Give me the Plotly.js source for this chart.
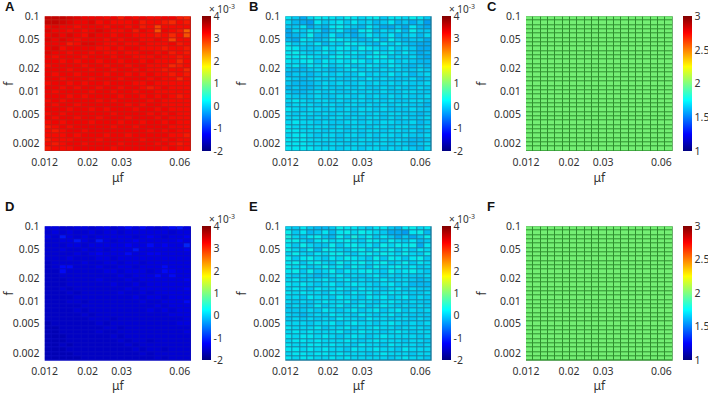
<!DOCTYPE html>
<html><head><meta charset="utf-8">
<script src="https://cdn.plot.ly/plotly-3.0.1.min.js"></script>
<style>html,body{margin:0;padding:0;background:#fff}#c{width:708px;height:394px}</style></head>
<body><div id="c"></div>
<script>
const muEdges=[0.012,0.01309,0.01428,0.01559,0.01701,0.01856,0.02025,0.02209,0.0241,0.0263,0.0287,0.03131,0.03416,0.03727,0.04067,0.04437,0.04841,0.05283,0.05764,0.06289,0.0686];
const fEdges=[0.1,0.08755,0.07662,0.06705,0.05868,0.05135,0.04494,0.03932,0.03441,0.03012,0.02635,0.02306,0.02018,0.01766,0.01546,0.01353,0.01184,0.01036,0.00906,0.00793,0.00694,0.00608,0.00532,0.00465,0.00407,0.00356,0.00312,0.00273,0.00239,0.00209,0.00183,0.0016];
const muTicks=[0.012,0.02,0.03,0.06];
const muLabels=['0.012','0.02','0.03','0.06'];
const fTicks=[0.002,0.005,0.01,0.02,0.05,0.1];
const fLabels=['0.002','0.005','0.01','0.02','0.05','0.1'];
const scaleE3Ticks=[-2,-1,0,1,2,3,4];
const scaleE3Labels=['-2','-1','0','1','2','3','4'];
const scaleNTicks=[1,1.5,2,2.5,3];
const scaleNLabels=['1','1.5','2','2.5','3'];
const jet=[[0,'#000080'],[0.125,'#0000ff'],[0.375,'#00ffff'],[0.625,'#ffff00'],[0.875,'#ff0000'],[1,'#800000']];

const zA=[
[3.6,3.6,3.6,3.5,3.4,3.3,3.3,3.3,3.2,3.3,3.1,3.3,3.2,3.3,3.2,3.2,3.3,3.3,3.1,3.0],
[3.6,3.6,3.5,3.4,3.3,3.3,3.4,3.2,3.3,3.2,3.2,3.2,3.3,3.1,3.2,3.2,3.1,3.0,3.2,3.1],
[3.3,3.4,3.3,3.3,3.2,3.3,3.3,3.3,3.2,3.3,3.3,3.2,3.3,3.1,3.2,2.8,3.2,3.2,3.2,3.2],
[3.4,3.3,3.3,3.2,3.3,3.2,3.3,3.4,3.3,3.2,3.2,3.3,3.1,3.3,3.2,2.7,3.3,3.2,3.1,2.6],
[3.3,3.4,3.3,3.4,3.3,3.2,3.4,3.3,3.3,3.2,3.3,3.3,3.2,3.2,3.2,3.1,3.2,3.0,3.2,2.7],
[3.4,3.3,3.4,3.3,3.2,3.3,3.3,3.3,3.2,3.3,3.2,3.3,3.3,3.2,3.2,3.3,3.2,2.8,3.2,3.2],
[3.3,3.3,3.3,3.1,3.2,3.4,3.4,3.3,3.2,3.2,3.3,3.2,3.2,3.3,3.2,3.2,3.2,3.3,3.1,3.2],
[3.3,3.4,3.2,3.3,3.3,3.3,3.3,3.2,3.2,3.3,3.2,3.3,3.3,3.2,3.2,3.2,3.1,3.2,3.2,3.1],
[3.4,3.3,3.3,3.2,3.3,3.3,3.2,3.3,3.2,3.2,3.3,3.2,3.2,3.3,3.3,3.2,3.3,3.1,3.2,3.1],
[3.3,3.2,3.3,3.3,3.3,3.2,3.3,3.3,3.3,3.2,3.3,3.3,3.2,3.2,3.2,3.3,3.2,3.2,3.1,3.2],
[3.3,3.3,3.2,3.3,3.2,3.3,3.3,3.2,3.3,3.3,3.2,3.3,3.3,3.2,3.3,3.2,3.2,3.2,3.0,3.2],
[3.2,3.3,3.3,3.3,3.3,3.2,3.3,3.3,3.2,3.3,3.3,3.2,3.3,3.3,3.2,3.2,3.2,3.0,3.1,3.2],
[3.3,3.3,3.3,3.2,3.3,3.3,3.2,3.3,3.3,3.2,3.3,3.3,3.2,3.3,3.2,3.2,3.1,3.2,3.2,3.0],
[3.3,3.2,3.3,3.3,3.2,3.3,3.3,3.3,3.2,3.3,3.3,3.2,3.3,3.2,3.3,3.2,3.2,3.1,3.2,3.1],
[3.3,3.3,3.2,3.3,3.3,3.3,3.2,3.3,3.3,3.3,3.2,3.3,3.3,3.3,3.2,3.3,3.2,3.2,3.0,3.2],
[3.2,3.3,3.3,3.2,3.3,3.2,3.3,3.3,3.2,3.3,3.3,3.3,3.2,3.2,3.3,3.2,3.2,3.2,3.2,3.2],
[3.3,3.3,3.2,3.3,3.2,3.3,3.3,3.2,3.3,3.3,3.2,3.3,3.3,3.2,3.1,3.2,3.3,3.2,3.2,3.2],
[3.3,3.2,3.3,3.3,3.3,3.3,3.2,3.3,3.3,3.2,3.3,3.3,3.2,3.3,3.3,3.2,3.2,3.2,3.2,3.2],
[3.3,3.3,3.3,3.2,3.3,3.2,3.3,3.3,3.3,3.3,3.2,3.3,3.3,3.2,3.3,3.2,3.3,3.2,3.1,3.2],
[3.2,3.3,3.2,3.3,3.3,3.3,3.3,3.2,3.3,3.2,3.3,3.3,3.3,3.3,3.2,3.3,3.2,3.2,3.2,3.2],
[3.3,3.2,3.3,3.3,3.2,3.3,3.3,3.3,3.3,3.3,3.3,3.2,3.3,3.2,3.3,3.3,3.2,3.2,3.2,3.2],
[3.3,3.3,3.3,3.2,3.3,3.3,3.2,3.3,3.2,3.3,3.3,3.3,3.2,3.3,3.3,3.2,3.3,3.2,3.2,3.2],
[3.2,3.3,3.2,3.3,3.3,3.3,3.3,3.3,3.3,3.2,3.3,3.3,3.3,3.3,3.2,3.3,3.2,3.3,3.2,3.2],
[3.3,3.2,3.3,3.3,3.2,3.3,3.3,3.2,3.3,3.3,3.3,3.2,3.3,3.3,3.3,3.2,3.3,3.2,3.2,3.2],
[3.2,3.3,3.2,3.3,3.3,3.3,3.2,3.3,3.3,3.3,3.2,3.3,3.3,3.2,3.3,3.3,3.2,3.3,3.2,3.2],
[3.1,3.2,3.3,3.2,3.3,3.3,3.3,3.3,3.3,3.2,3.3,3.3,3.2,3.3,3.3,3.3,3.3,3.2,3.2,3.2],
[3.2,3.1,3.2,3.3,3.3,3.2,3.3,3.3,3.3,3.3,3.3,3.3,3.3,3.3,3.2,3.3,3.2,3.3,3.2,3.2],
[3.2,3.2,3.2,3.3,3.2,3.3,3.3,3.3,3.2,3.3,3.3,3.2,3.3,3.3,3.3,3.3,3.3,3.2,3.2,3.1],
[3.1,3.2,3.2,3.2,3.3,3.3,3.3,3.2,3.3,3.3,3.3,3.3,3.3,3.2,3.3,3.3,3.2,3.3,3.2,3.2],
[3.2,3.1,3.2,3.3,3.3,3.2,3.3,3.3,3.3,3.3,3.2,3.3,3.3,3.3,3.3,3.2,3.3,3.2,3.1,3.2],
[3.1,3.2,3.2,3.2,3.3,3.3,3.3,3.3,3.3,3.2,3.3,3.3,3.3,3.3,3.3,3.3,3.2,3.3,3.2,3.2]];

const zB=[
[0.2,0.0,-0.2,0.1,0.3,0.2,0.2,0.1,0.3,0.2,0.1,0.2,0.3,0.0,0.2,0.2,0.1,0.3,0.2,0.0],
[0.1,-0.1,-0.2,-0.3,0.2,0.0,0.1,0.2,0.0,0.2,0.0,0.1,-0.1,0.0,0.2,-0.1,0.0,-0.2,0.0,-0.3],
[0.0,0.0,0.2,-0.2,0.0,-0.1,0.2,0.3,0.1,0.0,-0.1,0.2,0.0,-0.2,-0.2,0.0,-0.2,0.2,-0.1,-0.2],
[-0.2,0.1,0.0,0.2,0.1,-0.2,0.0,0.2,-0.1,-0.2,0.2,0.3,-0.1,0.1,0.0,0.2,-0.1,0.3,0.0,0.0],
[-0.2,-0.1,0.0,0.3,-0.1,-0.1,0.2,-0.1,0.0,-0.2,0.0,0.2,0.0,0.0,0.2,-0.1,0.0,0.1,-0.1,0.1],
[-0.1,-0.2,0.2,0.1,-0.1,0.0,0.3,0.2,0.1,0.0,-0.1,0.0,0.2,-0.1,0.3,0.0,-0.1,0.0,0.0,-0.2],
[0.2,0.0,0.1,0.0,0.2,-0.1,0.1,0.0,0.3,0.2,0.1,0.0,-0.1,0.2,0.0,0.2,0.0,-0.1,-0.2,-0.2],
[0.3,0.2,0.0,0.0,0.0,0.2,0.1,0.2,0.2,0.0,0.3,0.2,0.1,0.0,0.2,0.0,0.1,0.0,-0.2,-0.2],
[0.2,0.3,0.1,0.0,0.1,0.2,0.0,0.2,0.1,0.2,0.1,0.0,0.3,0.1,0.2,0.0,0.2,0.0,-0.2,-0.1],
[0.3,0.2,0.3,0.2,0.1,0.0,0.2,0.3,0.2,0.1,0.0,0.2,0.2,0.3,0.0,0.1,0.0,0.1,-0.1,-0.2],
[0.2,0.1,0.2,0.3,0.0,0.2,0.1,0.2,0.1,0.3,0.2,0.0,0.2,0.1,0.2,0.0,0.1,0.0,-0.1,-0.1],
[0.1,0.2,0.0,0.2,0.1,0.2,0.0,0.1,0.2,0.0,0.1,0.2,0.1,0.0,0.2,0.1,0.0,-0.1,0.0,-0.1],
[0.0,-0.1,-0.1,0.0,0.1,0.0,-0.1,0.0,0.1,0.2,0.0,0.1,0.0,0.1,0.0,0.1,0.0,0.0,0.1,0.0],
[-0.1,0.0,0.0,-0.1,0.0,0.1,0.0,0.1,0.0,0.0,0.2,0.0,0.1,0.0,0.2,0.0,0.1,-0.1,0.0,0.1],
[0.1,0.0,-0.1,0.0,0.1,0.0,0.1,0.0,0.0,0.1,0.0,0.2,0.0,0.1,0.0,0.0,0.0,0.1,-0.1,0.0],
[0.0,-0.1,-0.1,-0.1,0.0,0.1,0.0,0.1,0.0,0.0,0.1,0.0,0.1,0.0,0.1,0.0,0.1,0.0,0.0,0.1],
[-0.1,0.0,-0.1,-0.1,0.0,0.1,0.0,0.0,0.1,0.0,0.1,0.0,0.0,0.1,0.0,0.1,0.0,0.0,0.1,0.0],
[0.0,-0.1,-0.1,0.0,0.1,0.0,0.1,0.0,0.0,0.1,0.0,0.1,0.0,0.1,0.0,0.0,0.1,0.1,0.0,0.0],
[0.1,0.0,0.0,0.0,0.1,0.0,0.0,0.1,0.1,0.0,0.1,0.0,0.1,0.0,0.1,0.0,0.1,0.0,0.0,0.1],
[0.1,0.2,0.1,0.0,0.1,0.1,0.0,0.1,0.0,0.1,0.1,0.0,0.1,0.0,0.1,0.0,0.0,0.1,0.1,0.0],
[0.0,0.1,0.1,0.1,0.0,0.1,0.1,0.0,0.1,0.1,0.0,0.1,0.0,0.1,0.0,0.1,0.1,0.0,0.0,-0.1],
[0.2,0.1,0.0,0.1,0.1,0.0,0.1,0.0,0.1,0.0,0.1,0.1,0.0,0.1,0.0,0.0,0.0,0.1,0.0,0.0],
[0.1,0.0,0.1,0.1,0.0,0.1,0.0,0.1,0.1,0.0,0.1,0.0,0.1,0.0,0.1,0.1,0.0,0.0,-0.1,0.0],
[0.1,0.1,0.1,0.0,0.1,0.0,0.1,0.1,0.0,0.1,0.0,0.1,0.1,0.0,0.1,0.0,0.1,0.0,0.0,0.1],
[0.1,0.2,0.1,0.1,0.0,0.1,0.0,0.0,0.1,0.1,0.0,0.1,0.0,0.1,0.1,0.0,0.0,0.1,-0.1,0.0],
[0.2,0.1,0.1,0.1,0.1,0.1,0.0,0.1,0.0,0.1,0.1,0.0,0.1,0.1,0.0,0.1,0.1,0.0,0.0,0.1],
[0.2,0.2,0.1,0.1,0.1,0.0,0.1,0.1,0.0,0.1,0.0,0.1,0.1,0.0,0.1,0.1,0.0,0.1,-0.1,0.0],
[0.1,0.2,0.2,0.1,0.0,0.1,0.1,0.0,0.1,0.1,0.0,0.1,0.0,0.1,0.1,0.0,0.1,0.0,0.0,0.1],
[0.2,0.2,0.2,0.1,0.1,0.1,0.1,0.0,0.1,0.0,0.1,0.1,0.0,0.1,0.0,0.1,0.0,-0.1,-0.1,0.0],
[0.2,0.2,0.2,0.1,0.1,0.0,0.1,0.1,0.0,0.1,0.1,0.0,0.1,0.1,0.0,0.1,0.0,-0.1,0.0,0.1],
[0.2,0.2,0.2,0.2,0.1,0.1,0.1,0.0,0.1,0.1,0.0,0.1,0.1,0.0,0.1,0.0,0.1,0.0,-0.1,0.1]];

const twoRow=[2,2,2,2,2,2,2,2,2,2,2,2,2,2,2,2,2,2,2,2];
const zC=[twoRow,twoRow,twoRow,twoRow,twoRow,twoRow,twoRow,twoRow,twoRow,twoRow,twoRow,twoRow,twoRow,twoRow,twoRow,twoRow,twoRow,twoRow,twoRow,twoRow,twoRow,twoRow,twoRow,twoRow,twoRow,twoRow,twoRow,twoRow,twoRow,twoRow,twoRow];

const zD=[
[-1.4,-1.4,-1.5,-1.5,-1.4,-1.4,-1.5,-1.4,-1.3,-1.5,-1.4,-1.2,-1.4,-1.2,-1.4,-1.5,-1.4,-1.2,-1.1,-1.4],
[-1.5,-1.4,-1.5,-1.4,-1.5,-1.5,-1.4,-1.5,-1.4,-1.4,-1.5,-1.4,-1.4,-1.4,-1.4,-1.4,-1.4,-1.5,-1.4,-1.4],
[-1.4,-1.5,-1.1,-1.4,-1.5,-1.4,-1.5,-1.4,-1.4,-1.4,-1.4,-1.4,-1.5,-1.4,-1.3,-1.4,-1.5,-1.4,-1.4,-1.3],
[-1.5,-1.5,-1.4,-1.4,-1.1,-1.4,-1.5,-1.1,-1.4,-1.5,-1.4,-1.4,-1.3,-1.4,-1.4,-1.4,-1.4,-1.4,-1.3,-1.4],
[-1.5,-1.5,-1.5,-1.4,-1.4,-1.5,-1.4,-1.4,-1.4,-1.4,-1.4,-1.3,-1.4,-1.4,-1.2,-1.4,-1.3,-1.4,-1.4,-1.0],
[-1.5,-1.5,-1.4,-1.5,-1.5,-1.4,-1.5,-1.4,-1.5,-1.4,-1.4,-1.4,-1.1,-1.4,-1.4,-1.4,-1.4,-1.4,-1.4,-1.3],
[-1.5,-1.5,-1.5,-1.5,-1.4,-1.5,-1.4,-1.3,-1.4,-1.4,-1.4,-1.2,-1.4,-1.4,-1.3,-1.3,-1.4,-1.4,-1.4,-1.4],
[-1.5,-1.5,-1.5,-1.4,-1.5,-1.5,-1.5,-1.4,-1.4,-1.5,-1.4,-1.4,-1.4,-1.4,-1.4,-1.4,-1.4,-1.4,-1.4,-1.4],
[-1.6,-1.5,-1.5,-1.5,-1.5,-1.4,-1.5,-1.5,-1.4,-1.4,-1.5,-1.4,-1.4,-1.5,-1.4,-1.4,-1.4,-1.4,-1.4,-1.4],
[-1.6,-1.5,-1.2,-1.2,-1.5,-1.5,-1.5,-1.4,-1.5,-1.5,-1.4,-1.4,-1.5,-1.4,-1.4,-1.4,-1.2,-1.4,-1.4,-1.4],
[-1.6,-1.6,-1.2,-1.5,-1.5,-1.5,-1.5,-1.5,-1.4,-1.4,-1.5,-1.4,-1.4,-1.4,-1.5,-1.4,-1.2,-1.3,-1.4,-1.4],
[-1.6,-1.6,-1.5,-1.5,-1.5,-1.5,-1.5,-1.5,-1.5,-1.5,-1.4,-1.5,-1.4,-1.4,-1.4,-1.2,-1.4,-1.2,-1.4,-1.4],
[-1.6,-1.6,-1.6,-1.5,-1.5,-1.5,-1.5,-1.4,-1.5,-1.5,-1.5,-1.4,-1.5,-1.4,-1.4,-1.4,-1.4,-1.4,-1.4,-1.3],
[-1.6,-1.6,-1.6,-1.5,-1.5,-1.5,-1.5,-1.5,-1.5,-1.4,-1.5,-1.5,-1.4,-1.5,-1.4,-1.4,-1.4,-1.4,-1.4,-1.4],
[-1.6,-1.6,-1.5,-1.6,-1.5,-1.5,-1.5,-1.5,-1.5,-1.5,-1.5,-1.4,-1.5,-1.4,-1.4,-1.4,-1.4,-1.4,-1.4,-1.3],
[-1.6,-1.6,-1.6,-1.5,-1.6,-1.5,-1.5,-1.5,-1.5,-1.5,-1.4,-1.5,-1.5,-1.4,-1.5,-1.4,-1.4,-1.4,-1.4,-1.4],
[-1.6,-1.6,-1.6,-1.6,-1.5,-1.5,-1.5,-1.5,-1.5,-1.5,-1.5,-1.5,-1.4,-1.5,-1.4,-1.4,-1.5,-1.4,-1.4,-1.4],
[-1.6,-1.6,-1.6,-1.5,-1.5,-1.6,-1.5,-1.5,-1.5,-1.5,-1.5,-1.5,-1.5,-1.4,-1.5,-1.5,-1.4,-1.4,-1.4,-1.2],
[-1.6,-1.6,-1.6,-1.6,-1.6,-1.5,-1.5,-1.5,-1.5,-1.5,-1.5,-1.5,-1.5,-1.5,-1.5,-1.4,-1.5,-1.4,-1.4,-1.4],
[-1.6,-1.6,-1.6,-1.6,-1.5,-1.6,-1.5,-1.5,-1.5,-1.5,-1.5,-1.5,-1.5,-1.5,-1.4,-1.5,-1.4,-1.5,-1.4,-1.4],
[-1.6,-1.6,-1.6,-1.6,-1.6,-1.5,-1.6,-1.5,-1.5,-1.5,-1.5,-1.5,-1.5,-1.5,-1.5,-1.5,-1.5,-1.4,-1.4,-1.4],
[-1.6,-1.6,-1.6,-1.6,-1.6,-1.6,-1.5,-1.5,-1.5,-1.6,-1.5,-1.5,-1.5,-1.5,-1.5,-1.5,-1.5,-1.5,-1.5,-1.4],
[-1.7,-1.6,-1.6,-1.6,-1.6,-1.6,-1.6,-1.5,-1.6,-1.5,-1.5,-1.5,-1.5,-1.5,-1.5,-1.5,-1.5,-1.5,-1.4,-1.4],
[-1.7,-1.7,-1.6,-1.6,-1.6,-1.6,-1.6,-1.6,-1.5,-1.5,-1.6,-1.5,-1.5,-1.5,-1.5,-1.5,-1.5,-1.5,-1.5,-1.5],
[-1.7,-1.7,-1.6,-1.6,-1.6,-1.6,-1.6,-1.5,-1.6,-1.6,-1.5,-1.5,-1.5,-1.5,-1.5,-1.5,-1.5,-1.5,-1.5,-1.4],
[-1.7,-1.7,-1.7,-1.6,-1.6,-1.6,-1.6,-1.6,-1.6,-1.5,-1.6,-1.5,-1.5,-1.5,-1.5,-1.5,-1.5,-1.5,-1.5,-1.5],
[-1.7,-1.7,-1.7,-1.6,-1.6,-1.6,-1.6,-1.6,-1.6,-1.6,-1.5,-1.6,-1.5,-1.5,-1.6,-1.5,-1.5,-1.5,-1.5,-1.5],
[-1.7,-1.7,-1.6,-1.7,-1.6,-1.6,-1.6,-1.6,-1.6,-1.6,-1.6,-1.5,-1.6,-1.5,-1.5,-1.5,-1.5,-1.5,-1.5,-1.5],
[-1.7,-1.7,-1.7,-1.6,-1.6,-1.6,-1.6,-1.6,-1.6,-1.6,-1.6,-1.6,-1.5,-1.6,-1.5,-1.5,-1.6,-1.5,-1.5,-1.5],
[-1.7,-1.7,-1.7,-1.7,-1.6,-1.6,-1.6,-1.6,-1.6,-1.6,-1.6,-1.6,-1.6,-1.5,-1.6,-1.5,-1.5,-1.5,-1.5,-1.5],
[-1.7,-1.7,-1.7,-1.7,-1.7,-1.6,-1.6,-1.6,-1.6,-1.6,-1.6,-1.6,-1.6,-1.6,-1.6,-1.5,-1.6,-1.5,-1.5,-1.5]];

const zE=[
[0.1,0.0,0.2,0.0,-0.1,-0.1,0.0,0.3,0.2,0.2,0.1,0.0,0.2,0.2,0.0,-0.1,0.2,0.3,0.1,0.2],
[0.3,0.0,0.2,-0.1,0.0,0.2,-0.1,0.2,0.3,0.1,0.3,0.2,0.1,0.0,-0.2,-0.2,-0.3,0.2,0.3,-0.1],
[0.4,0.1,0.0,0.2,0.3,0.0,-0.1,0.3,0.0,0.4,0.1,0.3,0.0,0.2,0.0,-0.2,0.0,-0.2,0.0,0.3],
[0.3,0.3,0.1,-0.1,0.2,0.3,0.1,0.2,0.3,0.1,0.0,0.3,0.2,0.0,0.3,0.1,0.0,0.2,-0.1,0.0],
[0.2,0.0,0.3,0.1,0.0,0.0,0.3,0.0,0.2,0.3,0.1,0.2,0.0,0.3,0.1,0.3,0.2,0.3,-0.2,0.2],
[0.3,0.1,0.0,0.3,-0.1,0.3,0.2,0.1,0.0,0.2,0.3,0.0,0.3,0.1,0.3,0.0,0.2,0.0,0.2,0.1],
[0.1,0.3,0.1,0.0,0.2,0.1,0.3,0.3,0.1,0.0,0.2,0.3,0.1,0.3,0.2,0.1,0.3,0.1,0.0,0.3],
[0.3,0.0,0.2,0.3,0.1,0.0,0.2,0.1,0.3,0.2,0.1,0.0,0.3,0.0,0.3,0.2,0.0,0.2,0.3,0.0],
[0.2,0.3,0.0,0.2,0.3,0.1,0.0,0.3,0.1,0.2,0.3,0.1,0.2,0.3,0.0,0.1,0.3,0.0,0.2,0.1],
[0.3,0.1,0.2,0.0,0.1,0.3,0.1,0.2,0.0,0.3,0.1,0.0,0.3,0.1,0.2,0.3,0.1,0.2,0.0,0.1],
[0.2,0.3,0.0,0.3,0.0,0.1,0.3,0.0,0.2,0.1,0.2,0.3,0.1,0.0,0.3,0.1,0.2,0.3,0.1,0.0],
[0.1,0.0,0.1,0.0,-0.1,0.0,0.1,0.2,0.0,0.1,0.0,0.1,0.2,0.0,0.1,0.0,0.1,0.0,0.0,0.1],
[0.1,0.2,0.0,0.1,0.1,0.2,0.0,0.1,0.2,0.0,0.1,0.0,0.1,0.2,0.0,0.1,0.1,0.0,-0.1,0.0],
[0.2,0.1,0.2,0.1,0.0,0.1,0.2,0.0,0.1,0.2,0.1,0.1,0.0,0.1,0.2,0.0,0.1,-0.1,-0.1,-0.1],
[0.1,0.2,0.1,0.0,0.2,0.1,0.1,0.2,0.1,0.0,0.2,0.1,0.1,0.0,0.1,0.2,0.0,0.1,0.0,0.0],
[0.2,0.1,0.2,0.1,0.1,0.0,0.2,0.1,0.0,0.2,0.1,0.2,0.0,0.1,0.2,0.1,0.1,0.0,0.0,0.1],
[0.1,0.1,0.0,0.2,0.1,0.1,0.0,0.2,0.1,0.1,0.0,0.2,0.1,0.2,0.0,0.1,0.2,0.0,0.1,0.0],
[0.1,0.0,0.1,0.0,0.1,0.2,0.1,0.1,0.2,0.0,0.1,0.1,0.0,0.1,0.2,0.1,0.0,0.1,0.0,0.0],
[0.0,0.1,0.0,0.0,0.2,0.0,0.1,0.2,0.0,0.1,0.2,0.0,0.1,0.2,0.1,0.0,0.1,0.0,0.1,0.0],
[0.0,0.0,0.0,0.1,0.0,0.2,0.1,0.0,0.1,0.2,0.0,0.1,0.2,0.0,0.1,0.2,0.0,0.1,0.0,0.1],
[0.1,0.0,-0.1,0.0,0.1,0.0,0.2,0.1,0.1,0.0,0.2,0.1,0.0,0.1,0.2,0.0,0.1,0.0,0.0,0.0],
[0.0,0.1,0.0,0.1,0.0,0.1,0.0,0.2,0.1,0.1,0.0,0.2,0.1,0.1,0.0,0.1,0.1,0.0,0.1,0.0],
[0.1,0.1,0.1,0.0,0.1,0.1,0.2,0.0,0.1,0.2,0.1,0.1,0.0,0.1,0.2,0.1,0.0,0.1,0.0,0.1],
[0.2,0.1,0.1,0.1,0.2,0.0,0.1,0.1,0.2,0.0,0.1,0.1,0.2,0.1,0.1,0.0,0.1,0.1,0.1,0.0],
[0.1,0.2,0.1,0.2,0.1,0.1,0.1,0.2,0.0,0.1,0.2,0.1,0.1,0.0,0.1,0.2,0.1,0.0,0.1,0.1],
[0.2,0.1,0.2,0.2,0.1,0.2,0.1,0.0,0.1,0.2,0.1,0.0,0.1,0.2,0.1,0.1,0.1,0.1,0.0,0.1],
[0.1,0.2,0.2,0.1,0.2,0.1,0.1,0.1,0.2,0.1,0.0,0.1,0.2,0.1,0.1,0.1,0.0,0.1,0.1,0.0],
[0.2,0.1,0.1,0.2,0.2,0.1,0.2,0.1,0.1,0.0,0.2,0.1,0.1,0.0,0.2,0.1,0.1,0.1,0.0,0.1],
[0.2,0.2,0.1,0.2,0.1,0.2,0.1,0.1,0.0,0.2,0.1,0.1,0.2,0.1,0.1,0.0,0.2,0.1,0.1,0.1],
[0.1,0.2,0.2,0.1,0.2,0.2,0.1,0.2,0.1,0.1,0.1,0.0,0.1,0.2,0.1,0.1,0.1,0.0,0.1,0.1],
[0.2,0.1,0.2,0.2,0.1,0.1,0.2,0.1,0.2,0.1,0.1,0.1,0.1,0.1,0.0,0.1,0.2,0.1,0.1,0.0]];

const zF=[twoRow,twoRow,twoRow,twoRow,twoRow,twoRow,twoRow,twoRow,twoRow,twoRow,twoRow,twoRow,twoRow,twoRow,twoRow,twoRow,twoRow,twoRow,twoRow,twoRow,twoRow,twoRow,twoRow,twoRow,twoRow,twoRow,twoRow,twoRow,twoRow,twoRow,twoRow];

const W=708,H=394;
const FONT='"Noto Sans", "Open Sans", sans-serif';
const TXT='#333';
const panels=[
 {id:'',  name:'A',z:zA,zmin:-2,zmax:4,lines:'#c01e14',l:44.7,r:191,  cb:201.7,t:16.3, b:151,  lx:3,  ly:7,  e3:true},
 {id:'2', name:'B',z:zB,zmin:-2,zmax:4,lines:'#1a7a9c',l:285.3,r:431.7,cb:442.3,t:16.3,b:151,  lx:247,ly:7,  e3:true},
 {id:'3', name:'C',z:zC,zmin:1,zmax:3, lines:'#2f8f2f',l:526,r:672.7, cb:683.3,t:16.3, b:151,  lx:485,ly:7,  e3:false},
 {id:'4', name:'D',z:zD,zmin:-2,zmax:4,lines:'#0a0ac0',l:44.7,r:191,  cb:201.7,t:226.3,b:360.7,lx:3,  ly:206,e3:true},
 {id:'5', name:'E',z:zE,zmin:-2,zmax:4,lines:'#1a7a9c',l:285.3,r:431.7,cb:442.3,t:226.3,b:360.7,lx:247,ly:206,e3:true},
 {id:'6', name:'F',z:zF,zmin:1,zmax:3, lines:'#2f8f2f',l:526,r:672.7, cb:683.3,t:226.3,b:360.7,lx:485,ly:206,e3:false}
];
const traces=[],shapes=[],annotations=[];
const layout={width:W,height:H,margin:{l:0,r:0,t:0,b:0},paper_bgcolor:'#fff',plot_bgcolor:'#fff',showlegend:false,font:{family:FONT,size:10.5,color:TXT}};
panels.forEach(p=>{
 const xa='x'+p.id, ya='y'+p.id;
 layout['xaxis'+p.id]={type:'log',domain:[p.l/W,p.r/W],range:[Math.log10(muEdges[0]),Math.log10(muEdges[20])],anchor:ya,
   tickmode:'array',tickvals:muTicks,ticktext:muLabels,ticks:'outside',ticklen:1,tickcolor:'rgba(0,0,0,0)',showgrid:false,zeroline:false,showline:false,
   tickfont:{family:FONT,size:10.5,color:TXT},title:{text:'μf',font:{family:FONT,size:12,color:TXT},standoff:4}};
 layout['yaxis'+p.id]={type:'log',domain:[1-p.b/H,1-p.t/H],range:[Math.log10(fEdges[31]),Math.log10(fEdges[0])],anchor:xa,
   tickmode:'array',tickvals:fTicks,ticktext:fLabels,ticks:'outside',ticklen:2,tickcolor:'rgba(0,0,0,0)',showgrid:false,zeroline:false,showline:false,
   tickfont:{family:FONT,size:10.5,color:TXT},title:{text:'f',font:{family:FONT,size:12,color:TXT},standoff:4}};
 traces.push({type:'heatmap',x:muEdges,y:fEdges,z:p.z,xaxis:xa,yaxis:ya,zmin:p.zmin,zmax:p.zmax,colorscale:jet,xgap:1,ygap:1,opacity:0.86,hoverinfo:'skip',
   colorbar:{x:p.cb/W,xanchor:'left',xpad:0,ypad:0,y:1-p.t/H,yanchor:'top',len:(p.b-p.t)/H,lenmode:'fraction',thickness:9,thicknessmode:'pixels',outlinewidth:0,
     tickmode:'array',tickvals:p.e3?scaleE3Ticks:scaleNTicks,ticktext:p.e3?scaleE3Labels:scaleNLabels,ticks:'',ticklen:0,tickfont:{family:FONT,size:10.5,color:TXT}}});
 shapes.push({type:'rect',xref:xa+' domain',yref:ya+' domain',x0:0,x1:1,y0:0,y1:1,layer:'below',line:{width:0},fillcolor:p.lines});
 annotations.push({xref:'paper',yref:'paper',x:p.lx/W,y:1-p.ly/H,xanchor:'left',yanchor:'middle',showarrow:false,text:'<b>'+p.name+'</b>',font:{family:'"Liberation Sans", sans-serif',size:13,color:'#111'}});
 if(p.e3) annotations.push({xref:'paper',yref:'paper',x:(p.cb+5)/W,y:1-(p.t-7)/H,xanchor:'left',yanchor:'middle',showarrow:false,text:'× 10<sup>-3</sup>',font:{family:FONT,size:10,color:TXT}});
});
layout.shapes=shapes;layout.annotations=annotations;
Plotly.newPlot('c',traces,layout,{displayModeBar:false,staticPlot:true});
</script></body></html>
